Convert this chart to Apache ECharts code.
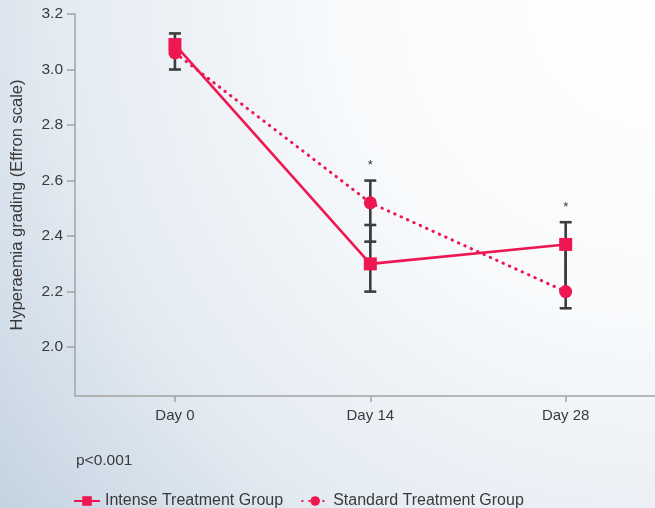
<!DOCTYPE html>
<html>
<head>
<meta charset="utf-8">
<script src="https://cdn.jsdelivr.net/npm/echarts@6/dist/echarts.min.js"></script>
<style>
  html, body { margin: 0; padding: 0; }
  body {
    width: 655px; height: 508px; overflow: hidden;
    background: radial-gradient(circle at 100% 0%, #ffffff 0%, #f8fafc 38%, #e4ebf2 72%, #c4d3e1 100%);
  }
  #chart { width: 655px; height: 508px; }
</style>
</head>
<body>
<div id="chart"></div>
<script>
// Time points (days) and their axis labels
const days = [0, 14, 28];
const dayLabels = ['Day 0', 'Day 14', 'Day 28'];

// Mean hyperaemia grade per group
const intenseMean = [3.09, 2.30, 2.37];
const standardMean = [3.06, 2.52, 2.20];

// Error bar limits per group
const intenseLow = [3.06, 2.20, 2.20];
const intenseHigh = [3.13, 2.44, 2.45];
const standardLow = [3.00, 2.38, 2.14];
const standardHigh = [3.09, 2.60, 2.37];

// Significance markers per time point
const significance = ['', '*', '*'];

// Y tick values
const yTicks = [2.0, 2.2, 2.4, 2.6, 2.8, 3.0, 3.2];

const lineColor = '#ee1752';
const barColor = '#3d3d3d';
const textColor = '#3a3a3a';
const axisColor = '#a3a3a3';
const font = 'Liberation Sans, Arial, Helvetica, sans-serif';

function errorData(low, high) {
  return days.map((d, i) => [d, low[i], high[i]]);
}

function renderErrorBar(params, api) {
  const x = api.value(0);
  const lo = api.coord([x, api.value(1)]);
  const hi = api.coord([x, api.value(2)]);
  const half = 6;
  const style = { stroke: barColor, lineWidth: 2.6 };
  return {
    type: 'group',
    children: [
      { type: 'line', shape: { x1: lo[0], y1: lo[1], x2: hi[0], y2: hi[1] }, style },
      { type: 'line', shape: { x1: lo[0] - half, y1: lo[1], x2: lo[0] + half, y2: lo[1] }, style },
      { type: 'line', shape: { x1: hi[0] - half, y1: hi[1], x2: hi[0] + half, y2: hi[1] }, style }
    ]
  };
}

// Significance star placed above the highest error-bar cap at each time point
function renderStar(params, api) {
  const x = api.value(0);
  const top = api.coord([x, api.value(1)]);
  return {
    type: 'text',
    style: {
      x: top[0], y: top[1] - 15,
      text: api.value(2) ? '*' : '',
      fill: textColor, font: '13px ' + font,
      align: 'center', verticalAlign: 'middle'
    }
  };
}

const starData = days.map((d, i) => [d, Math.max(intenseHigh[i], standardHigh[i]), significance[i] ? 1 : 0]);

const chart = echarts.init(document.getElementById('chart'), null, { renderer: 'canvas' });
chart.setOption({
  backgroundColor: 'transparent',
  animation: false,
  grid: { left: 75, top: 14, right: 0, bottom: 112, containLabel: false, outerBoundsMode: 'none' },
  xAxis: {
    type: 'value',
    min: -7.16, max: 34.4,
    splitLine: { show: false },
    axisLine: { onZero: false, lineStyle: { color: axisColor, width: 1.5 } },
    axisTick: { customValues: days, length: 6, lineStyle: { color: axisColor, width: 1.5 } },
    axisLabel: {
      customValues: days,
      formatter: v => dayLabels[days.indexOf(v)] || '',
      color: textColor, fontSize: 15, fontFamily: font, margin: 12
    }
  },
  yAxis: {
    type: 'value',
    min: 1.824, max: 3.2,
    name: 'Hyperaemia grading (Effron scale)',
    nameLocation: 'middle', nameGap: 49,
    nameTextStyle: { color: textColor, fontSize: 16.5, fontFamily: font },
    splitLine: { show: false },
    axisLine: { show: true, onZero: false, lineStyle: { color: axisColor, width: 1.5 } },
    axisTick: { show: true, customValues: yTicks, length: 8, lineStyle: { color: axisColor, width: 1.5 } },
    axisLabel: {
      customValues: yTicks,
      formatter: v => v.toFixed(1),
      color: textColor, fontSize: 15.5, fontFamily: font, margin: 12
    }
  },
  legend: {
    left: 68, top: 488, itemGap: 18,
    itemWidth: 26, itemHeight: 12,
    textStyle: { color: textColor, fontSize: 16, fontFamily: font },
    data: ['Intense Treatment Group', 'Standard Treatment Group']
  },
  graphic: [{
    type: 'text', left: 76, top: 453,
    style: { text: 'p<0.001', fill: textColor, font: '15.5px ' + font }
  }],
  series: [
    {
      type: 'custom', name: 'err-intense', silent: true, z: 1,
      renderItem: renderErrorBar, data: errorData(intenseLow, intenseHigh)
    },
    {
      type: 'custom', name: 'err-standard', silent: true, z: 1,
      renderItem: renderErrorBar, data: errorData(standardLow, standardHigh)
    },
    {
      type: 'custom', name: 'sig', silent: true, z: 1,
      renderItem: renderStar, data: starData
    },
    {
      name: 'Standard Treatment Group', type: 'line', z: 3,
      data: days.map((d, i) => [d, standardMean[i]]),
      symbol: 'circle', symbolSize: 13,
      itemStyle: { color: lineColor },
      lineStyle: { color: lineColor, width: 3, type: [0.5, 6.5], cap: 'round' }
    },
    {
      name: 'Intense Treatment Group', type: 'line', z: 4,
      data: days.map((d, i) => [d, intenseMean[i]]),
      symbol: 'rect', symbolSize: 13,
      itemStyle: { color: lineColor },
      lineStyle: { color: lineColor, width: 2.6 }
    }
  ]
});
</script>
</body>
</html>
